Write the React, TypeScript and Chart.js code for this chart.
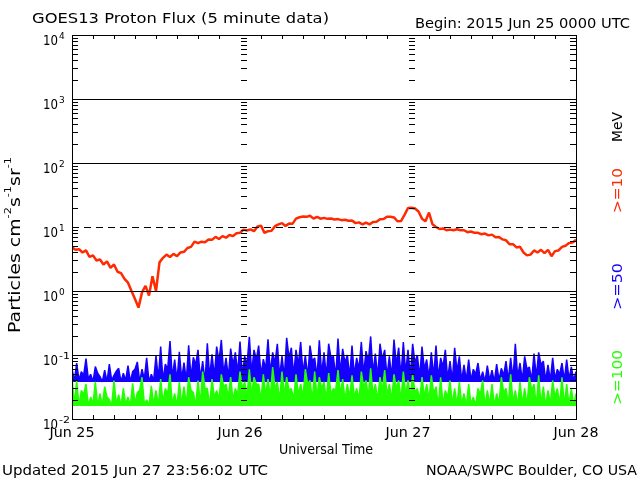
import { useEffect, useRef } from 'react';
import { Chart, registerables } from 'chart.js';

Chart.register(...registerables);

// ---------- data ----------
const RED_STEP_HOURS = 0.5;
const LOW_STEP_HOURS = 1 / 3;

// >=10 MeV flux (pfu), one value every 30 min from Jun 25 00:00
const RED_10MEV = [
  4.8, 4.4, 4.5, 4.0, 4.3, 3.4, 3.6, 3.0, 3.1, 2.6,
  2.9, 2.3, 2.6, 2.0, 1.9, 1.55, 1.35, 1.0, 0.75, 0.55,
  0.95, 1.2, 0.85, 1.7, 1.0, 2.8, 3.3, 3.7, 3.4, 3.8,
  3.5, 4.0, 4.1, 4.7, 4.9, 5.9, 5.6, 5.9, 5.8, 6.4,
  6.3, 7.0, 6.5, 7.2, 6.8, 7.5, 7.2, 8.0, 8.1, 9.1,
  8.8, 9.2, 8.6, 10.2, 10.5, 8.1, 8.6, 8.7, 10.3, 11.0,
  11.5, 10.4, 11.3, 11.2, 13.5, 14.2, 14.6, 14.4, 15.0, 13.5,
  14.4, 13.5, 13.9, 13.4, 13.6, 13.1, 13.3, 12.8, 13.0, 12.5,
  12.6, 11.5, 11.8, 11.0, 11.7, 11.0, 12.0, 12.1, 13.2, 13.3,
  14.5, 14.5, 14.1, 12.3, 12.4, 15.5, 19.8, 20.0, 19.4, 17.5,
  13.5, 12.3, 16.8, 11.0, 10.0, 9.3, 9.5, 8.9, 9.1, 8.9,
  9.2, 8.9, 8.9, 8.3, 8.5, 8.1, 8.1, 7.7, 7.9, 7.4,
  7.6, 6.9, 7.0, 6.4, 6.2, 5.4, 5.4, 4.8, 4.9, 4.0,
  3.6, 3.7, 4.3, 4.0, 4.4, 3.9, 4.4, 3.5, 4.2, 4.3,
  4.9, 5.1, 5.6, 5.7, 6.3,
];

// >=50 MeV flux in units of 0.001 pfu, one value every 20 min
const BLUE_50MEV_MILLI = [
  62, 38, 75, 40, 55, 48, 88, 42, 50, 38, 66, 52,
  46, 38, 58, 38, 72, 40, 48, 56, 62, 38, 52, 40,
  68, 38, 55, 60, 78, 38, 60, 42, 90, 38, 50, 40,
  98, 42, 135, 40, 72, 60, 165, 44, 85, 40, 112, 42,
  76, 40, 142, 44, 92, 70, 120, 42, 80, 38, 152, 45,
  102, 46, 135, 80, 172, 50, 90, 45, 126, 70, 110, 52,
  162, 48, 96, 70, 192, 52, 120, 85, 140, 48, 86, 60,
  176, 52, 110, 75, 150, 46, 96, 45, 186, 90, 130, 48,
  120, 70, 160, 52, 100, 45, 140, 80, 90, 45, 170, 50,
  110, 46, 150, 90, 95, 45, 180, 52, 125, 75, 100, 45,
  140, 48, 90, 60, 160, 50, 115, 80, 195, 52, 105, 45,
  150, 85, 120, 46, 95, 45, 175, 70, 130, 46, 160, 52,
  120, 46, 150, 75, 100, 45, 135, 60, 85, 44, 110, 46,
  140, 44, 90, 65, 120, 42, 80, 40, 130, 55, 95, 40,
  70, 40, 85, 40, 60, 50, 75, 40, 55, 38, 68, 40,
  58, 38, 72, 40, 62, 48, 80, 40, 90, 42, 150, 45,
  75, 40, 95, 60, 65, 40, 105, 45, 110, 70, 80, 40,
  70, 40, 90, 42, 60, 50, 75, 40, 85, 42, 65, 40,
  55,
];

// >=100 MeV flux in units of 0.001 pfu, one value every 20 min
const GREEN_100MEV_MILLI = [
  45, 17, 40, 16, 28, 24, 35, 16, 22, 17, 38, 16,
  25, 16, 32, 22, 20, 16, 40, 17, 24, 16, 30, 17,
  22, 16, 36, 17, 26, 28, 45, 17, 20, 16, 33, 17,
  28, 16, 42, 18, 30, 25, 50, 17, 25, 16, 38, 17,
  32, 17, 45, 28, 26, 16, 40, 17, 55, 30, 30, 16,
  42, 22, 28, 20, 50, 32, 35, 22, 45, 20, 30, 24,
  55, 30, 38, 22, 60, 24, 45, 35, 35, 20, 50, 24,
  42, 22, 65, 30, 38, 20, 55, 24, 45, 28, 30, 20,
  50, 24, 35, 22, 60, 35, 40, 20, 55, 22, 45, 30,
  38, 20, 52, 24, 30, 28, 58, 24, 42, 20, 35, 22,
  48, 22, 30, 20, 55, 32, 40, 22, 62, 24, 35, 20,
  45, 28, 58, 24, 35, 20, 50, 30, 40, 20, 55, 24,
  40, 22, 50, 26, 30, 20, 45, 22, 35, 20, 48, 25,
  32, 16, 45, 17, 28, 22, 40, 17, 30, 16, 38, 17,
  25, 16, 35, 17, 22, 16, 30, 24, 40, 16, 28, 17,
  35, 16, 25, 17, 45, 26, 30, 17, 50, 18, 28, 16,
  38, 17, 30, 16, 45, 28, 35, 16, 48, 17, 32, 16,
  28, 17, 40, 22, 30, 17, 45, 16, 35, 17, 30, 16,
  25,
];

// lower edges of the noisy >=50 and >=100 MeV bands (pfu)
const BLUE_FLOOR = 0.038;
const GREEN_FLOOR = 0.016;

const DAY_LABELS = ['Jun 25', 'Jun 26', 'Jun 27', 'Jun 28'];
const DAY_HOURS = [0, 24, 48, 72];
const MINOR_X_STEP_HOURS = 3;
const Y_EXPONENTS = [-2, -1, 0, 1, 2, 3, 4];
const SOLID_GRID = [0.1, 1, 100, 1000];
const DASHED_GRID = [10];

const TITLE = 'GOES13 Proton Flux (5 minute data)';
const BEGIN = 'Begin: 2015 Jun 25 0000 UTC';
const X_TITLE = 'Universal Time';
const UPDATED = 'Updated 2015 Jun 27 23:56:02 UTC';
const CREDIT = 'NOAA/SWPC Boulder, CO USA';
const Y_TITLE_PARTS: [string, boolean][] = [
  ['Particles cm', false], ['-2', true], ['s', false], ['-1', true], ['sr', false], ['-1', true],
];
const RIGHT_LABELS: [string, string][] = [
  ['MeV', '#000000'], ['>=10', '#ff2a00'], ['>=50', '#1400ff'], ['>=100', '#22ff00'],
];

// ---------- styles ----------
const FONT = '"DejaVu Sans", "Liberation Sans", sans-serif';
const RED = '#ff2a00';
const BLUE = '#1400ff';
const GREEN = '#22ff00';

function fitText(
  ctx: CanvasRenderingContext2D, text: string, x: number, y: number, size: number,
  width: number | null, color: string, align: 'left' | 'center' | 'right' = 'left', rot = 0,
) {
  ctx.save();
  ctx.font = `${size}px ${FONT}`;
  ctx.fillStyle = color;
  ctx.textAlign = 'left';
  ctx.textBaseline = 'alphabetic';
  const w = ctx.measureText(text).width;
  const s = width ? width / w : 1;
  const tw = w * s;
  ctx.translate(x, y);
  if (rot) ctx.rotate(rot);
  const ox = align === 'center' ? -tw / 2 : align === 'right' ? -tw : 0;
  ctx.translate(ox, 0);
  ctx.scale(s, 1);
  ctx.fillText(text, 0, 0);
  ctx.restore();
}

function richVertical(
  ctx: CanvasRenderingContext2D, parts: [string, boolean][], x: number, yStart: number,
  total: number, size: number, supSize: number, raise: number, color: string,
) {
  ctx.save();
  ctx.fillStyle = color;
  ctx.textAlign = 'left';
  ctx.textBaseline = 'alphabetic';
  const widths = parts.map(([t, sup]) => {
    ctx.font = `${sup ? supSize : size}px ${FONT}`;
    return ctx.measureText(t).width;
  });
  const natural = widths.reduce((a, b) => a + b, 0);
  const s = total / natural;
  ctx.translate(x, yStart);
  ctx.rotate(-Math.PI / 2);
  ctx.scale(s, 1);
  let cx = 0;
  parts.forEach(([t, sup], i) => {
    ctx.font = `${sup ? supSize : size}px ${FONT}`;
    ctx.fillText(t, cx, sup ? -raise : 0);
    cx += widths[i];
  });
  ctx.restore();
}

const decorPlugin = {
  id: 'goesDecor',
  beforeDraw(chart: any) {
    const { ctx, width, height } = chart;
    ctx.save();
    ctx.fillStyle = '#ffffff';
    ctx.fillRect(0, 0, width, height);
    ctx.restore();
  },
  afterDatasetsDraw(chart: any) {
    const { ctx, chartArea: a, scales } = chart;
    const xs = scales.x;
    const ys = scales.y;
    const p = (v: number) => Math.round(v) + 0.5;
    const L = Math.round(a.left), R = Math.round(a.right), T = Math.round(a.top), B = Math.round(a.bottom);
    ctx.save();
    ctx.strokeStyle = '#000000';
    ctx.lineWidth = 1;

    ctx.beginPath();
    for (const v of SOLID_GRID) {
      const y = p(ys.getPixelForValue(v));
      ctx.moveTo(L, y);
      ctx.lineTo(R, y);
    }
    ctx.stroke();

    ctx.setLineDash([7, 5]);
    ctx.beginPath();
    for (const v of DASHED_GRID) {
      const y = p(ys.getPixelForValue(v));
      ctx.moveTo(L, y);
      ctx.lineTo(R, y);
    }
    ctx.stroke();
    ctx.setLineDash([]);

    ctx.strokeRect(L + 0.5, T + 0.5, R - L, B - T);

    ctx.beginPath();
    const eMin = Y_EXPONENTS[0];
    const eMax = Y_EXPONENTS[Y_EXPONENTS.length - 1];
    for (let e = eMin; e < eMax; e++) {
      for (let k = 2; k <= 9; k++) {
        const y = p(ys.getPixelForValue(k * Math.pow(10, e)));
        ctx.moveTo(L, y); ctx.lineTo(L + 6, y);
        ctx.moveTo(R, y); ctx.lineTo(R - 6, y);
        for (const h of DAY_HOURS.slice(1, -1)) {
          const x = Math.round(xs.getPixelForValue(h));
          ctx.moveTo(x + 1, y); ctx.lineTo(x + 7, y);
        }
      }
    }
    for (let h = MINOR_X_STEP_HOURS; h < DAY_HOURS[DAY_HOURS.length - 1]; h += MINOR_X_STEP_HOURS) {
      if (DAY_HOURS.includes(h)) continue;
      const x = p(xs.getPixelForValue(h));
      ctx.moveTo(x, T); ctx.lineTo(x, T + 4);
      ctx.moveTo(x, B); ctx.lineTo(x, B - 4);
    }
    ctx.stroke();
    ctx.restore();
  },
  afterDraw(chart: any) {
    const { ctx, scales } = chart;
    const xs = scales.x;
    const ys = scales.y;

    fitText(ctx, TITLE, 32, 23, 14, 297, '#000');
    fitText(ctx, BEGIN, 415, 28, 14, 215, '#000');

    for (const e of Y_EXPONENTS) {
      const y = ys.getPixelForValue(Math.pow(10, e));
      fitText(ctx, '10', 43, y + 9.5, 14, 15, '#000');
      fitText(ctx, String(e), 59, y + 4, 9, e < 0 ? 11 : null, '#000');
    }

    DAY_LABELS.forEach((lab, i) => {
      fitText(ctx, lab, xs.getPixelForValue(DAY_HOURS[i]), 437, 14, 45, '#000', 'center');
    });
    fitText(ctx, X_TITLE, 326, 454, 14, 94, '#000', 'center');
    fitText(ctx, UPDATED, 2, 475, 14, 266, '#000');
    fitText(ctx, CREDIT, 426, 475, 14, 211, '#000');

    richVertical(ctx, Y_TITLE_PARTS, 20, 333, 176, 15, 9, 9, '#000');

    const rightPos: [number, number][] = [[142, 30], [213, 45], [310, 47], [405, 55]];
    RIGHT_LABELS.forEach(([t, c], i) => {
      fitText(ctx, t, 622, rightPos[i][0], 14, rightPos[i][1], c, 'left', -Math.PI / 2);
    });
  },
};

export default function App() {
  const ref = useRef<HTMLCanvasElement | null>(null);
  useEffect(() => {
    document.body.style.margin = '0';
    const canvas = ref.current;
    if (!canvas) return;
    const red = RED_10MEV.map((v, i) => ({ x: i * RED_STEP_HOURS, y: v }));
    const blue = BLUE_50MEV_MILLI.map((v, i) => ({ x: i * LOW_STEP_HOURS, y: v / 1000 }));
    const green = GREEN_100MEV_MILLI.map((v, i) => ({ x: i * LOW_STEP_HOURS, y: v / 1000 }));
    const chart = new Chart(canvas, {
      type: 'line',
      data: {
        datasets: [
          { label: '>=10 MeV', data: red, borderColor: RED, borderWidth: 2.5, pointRadius: 0, tension: 0, order: 0, borderJoinStyle: 'bevel', fill: false },
          { label: '>=100 MeV', data: green, borderColor: GREEN, backgroundColor: GREEN, borderWidth: 1.5, pointRadius: 0, tension: 0, order: 1, borderJoinStyle: 'bevel', fill: { value: GREEN_FLOOR } },
          { label: '>=50 MeV', data: blue, borderColor: BLUE, backgroundColor: BLUE, borderWidth: 1.5, pointRadius: 0, tension: 0, order: 2, borderJoinStyle: 'bevel', fill: { value: BLUE_FLOOR } },
        ],
      } as any,
      options: {
        responsive: false,
        animation: false,
        devicePixelRatio: 1,
        layout: { padding: { left: 72, right: 64, top: 35, bottom: 61 } },
        plugins: { legend: { display: false }, tooltip: { enabled: false }, title: { display: false }, filler: { drawTime: 'beforeDatasetDraw' } },
        scales: {
          x: { type: 'linear', min: DAY_HOURS[0], max: DAY_HOURS[DAY_HOURS.length - 1], display: false },
          y: { type: 'logarithmic', min: Math.pow(10, Y_EXPONENTS[0]), max: Math.pow(10, Y_EXPONENTS[Y_EXPONENTS.length - 1]), display: false },
        },
        events: [],
      } as any,
      plugins: [decorPlugin],
    });
    return () => chart.destroy();
  }, []);
  return (
    <div style={{ width: 640, height: 480 }}>
      <canvas ref={ref} width={640} height={480} style={{ display: 'block', width: 640, height: 480 }} />
    </div>
  );
}
